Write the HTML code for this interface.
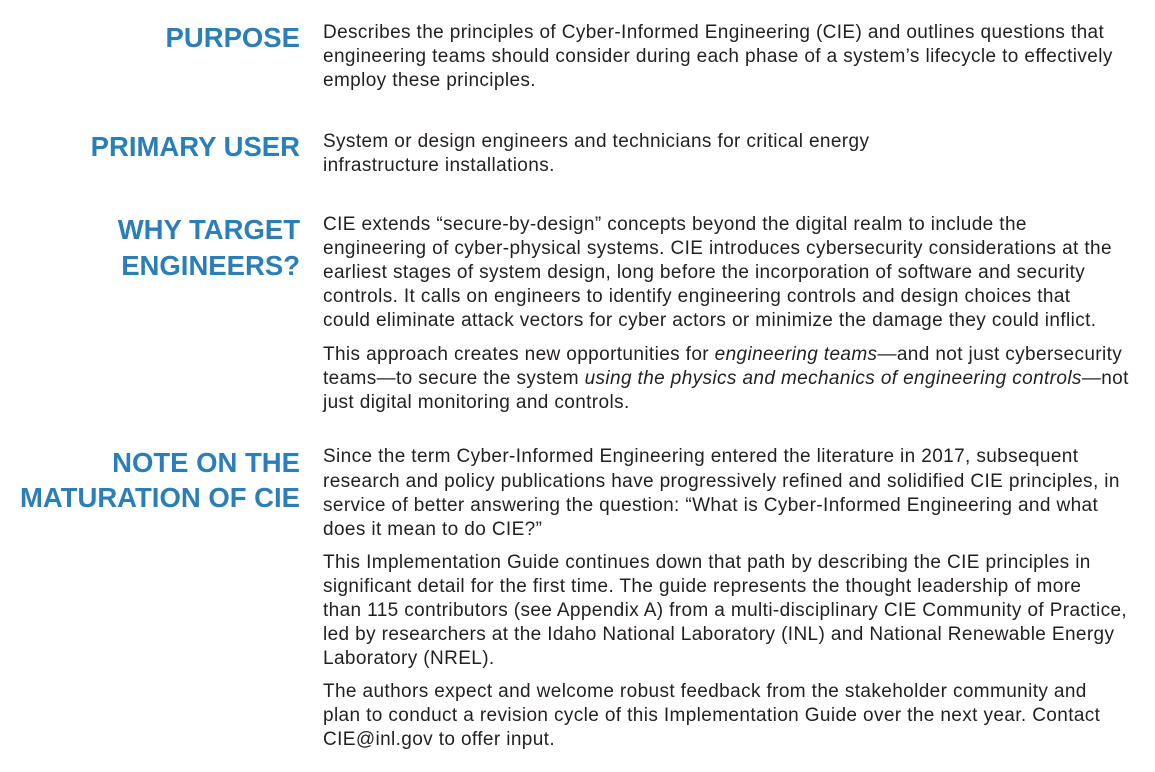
<!DOCTYPE html>
<html><head><meta charset="utf-8">
<style>
html,body{margin:0;padding:0;background:#fff;}
body{width:1155px;height:772px;position:relative;overflow:hidden;font-family:"Liberation Sans",sans-serif;}
.h{position:absolute;right:855px;color:#2b7fb8;font-weight:bold;font-size:27.5px;letter-spacing:0;white-space:nowrap;text-align:right;line-height:30px;margin-top:1px;}
.t{position:absolute;left:323px;color:#231f20;font-size:19px;letter-spacing:0.38px;white-space:nowrap;line-height:24px;margin-top:2px;}
</style></head><body>
<div class="h" style="top:22px">PURPOSE</div>
<div>
<div class="t" style="top:19px">Describes the principles of Cyber-Informed Engineering (CIE) and outlines questions that</div>
<div class="t" style="top:43px">engineering teams should consider during each phase of a system’s lifecycle to effectively</div>
<div class="t" style="top:67px">employ these principles.</div>
</div>
<div class="h" style="top:131px">PRIMARY USER</div>
<div>
<div class="t" style="top:128px">System or design engineers and technicians for critical energy</div>
<div class="t" style="top:152px">infrastructure installations.</div>
</div>
<div class="h" style="top:214px">WHY TARGET</div>
<div class="h" style="top:250px">ENGINEERS?</div>
<div>
<div class="t" style="top:211px">CIE extends “secure-by-design” concepts beyond the digital realm to include the</div>
<div class="t" style="top:235px">engineering of cyber-physical systems. CIE introduces cybersecurity considerations at the</div>
<div class="t" style="top:259px">earliest stages of system design, long before the incorporation of software and security</div>
<div class="t" style="top:283px">controls. It calls on engineers to identify engineering controls and design choices that</div>
<div class="t" style="top:307px">could eliminate attack vectors for cyber actors or minimize the damage they could inflict.</div>
<div class="t" style="top:341px">This approach creates new opportunities for <i>engineering teams</i>—and not just cybersecurity</div>
<div class="t" style="top:365px">teams—to secure the system <i>using the physics and mechanics of engineering controls</i>—not</div>
<div class="t" style="top:389px">just digital monitoring and controls.</div>
</div>
<div class="h" style="top:447px">NOTE ON THE</div>
<div class="h" style="top:482px">MATURATION OF CIE</div>
<div>
<div class="t" style="top:443px">Since the term Cyber-Informed Engineering entered the literature in 2017, subsequent</div>
<div class="t" style="top:468px">research and policy publications have progressively refined and solidified CIE principles, in</div>
<div class="t" style="top:492px">service of better answering the question: “What is Cyber-Informed Engineering and what</div>
<div class="t" style="top:516px">does it mean to do CIE?”</div>
<div class="t" style="top:549px">This Implementation Guide continues down that path by describing the CIE principles in</div>
<div class="t" style="top:573px">significant detail for the first time. The guide represents the thought leadership of more</div>
<div class="t" style="top:597px">than 115 contributors (see Appendix A) from a multi-disciplinary CIE Community of Practice,</div>
<div class="t" style="top:621px">led by researchers at the Idaho National Laboratory (INL) and National Renewable Energy</div>
<div class="t" style="top:645px">Laboratory (NREL).</div>
<div class="t" style="top:678px">The authors expect and welcome robust feedback from the stakeholder community and</div>
<div class="t" style="top:702px">plan to conduct a revision cycle of this Implementation Guide over the next year. Contact</div>
<div class="t" style="top:726px">CIE@inl.gov to offer input.</div>
</div>
</body></html>
